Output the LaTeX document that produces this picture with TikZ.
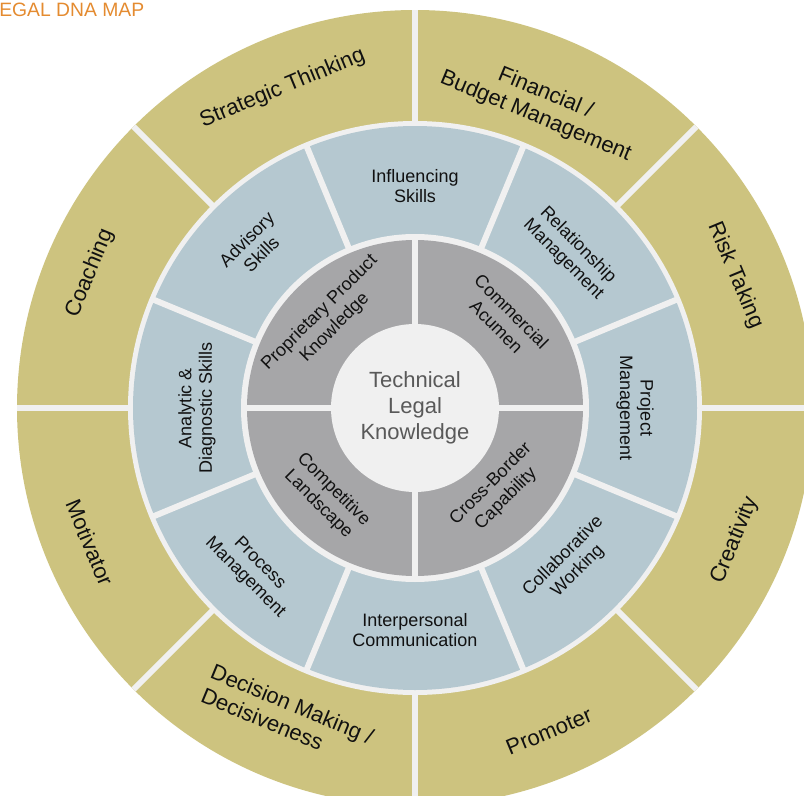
\documentclass[tikz,border=0pt]{standalone}
\usepackage{fontspec}
\setmainfont{Liberation Sans}
\usetikzlibrary{calc}

\begin{document}
\begin{tikzpicture}[x=0.75pt,y=0.75pt,yscale=-1,xscale=1,
  gap/.style={fill={rgb, 255:red, 240; green, 240; blue, 240}},
  sep/.style={draw={rgb, 255:red, 240; green, 240; blue, 240}, line width=4.5pt},
  outerlbl/.style={inner sep=0.75pt, align=center, font=\fontsize{16.5}{19}\selectfont, text={rgb, 255:red, 17; green, 17; blue, 17}},
  midlbl/.style={inner sep=0.75pt, align=center, font=\fontsize{13.5}{15.5}\selectfont, text={rgb, 255:red, 17; green, 17; blue, 17}},
  innerlbl/.style={inner sep=0.75pt, align=center, font=\fontsize{13.5}{16}\selectfont, text={rgb, 255:red, 17; green, 17; blue, 17}}
]
\useasboundingbox (0,0) rectangle (804,796);
\clip (0,0) rectangle (804,796);

\coordinate (c) at (415,408);

%Shape: Circle (outer ring)
\fill [fill={rgb, 255:red, 205; green, 195; blue, 127 }] (c) circle (398);
\fill [gap] (c) circle (287);
%Shape: Circle (middle ring)
\fill [fill={rgb, 255:red, 181; green, 200; blue, 208 }] (c) circle (282);
\fill [gap] (c) circle (174);
%Shape: Circle (inner ring)
\fill [fill={rgb, 255:red, 166; green, 166; blue, 168 }] (c) circle (168);
\fill [gap] (c) circle (84);

%Straight Lines (outer ring)
\draw [sep] ($(c)+(0:284)$) -- ($(c)+(0:398)$);
\draw [sep] ($(c)+(45:284)$) -- ($(c)+(45:398)$);
\draw [sep] ($(c)+(90:284)$) -- ($(c)+(90:398)$);
\draw [sep] ($(c)+(135:284)$) -- ($(c)+(135:398)$);
\draw [sep] ($(c)+(180:284)$) -- ($(c)+(180:398)$);
\draw [sep] ($(c)+(225:284)$) -- ($(c)+(225:398)$);
\draw [sep] ($(c)+(270:284)$) -- ($(c)+(270:398)$);
\draw [sep] ($(c)+(315:284)$) -- ($(c)+(315:398)$);
%Straight Lines (middle ring)
\draw [sep] ($(c)+(22.5:171)$) -- ($(c)+(22.5:285)$);
\draw [sep] ($(c)+(67.5:171)$) -- ($(c)+(67.5:285)$);
\draw [sep] ($(c)+(112.5:171)$) -- ($(c)+(112.5:285)$);
\draw [sep] ($(c)+(157.5:171)$) -- ($(c)+(157.5:285)$);
\draw [sep] ($(c)+(202.5:171)$) -- ($(c)+(202.5:285)$);
\draw [sep] ($(c)+(247.5:171)$) -- ($(c)+(247.5:285)$);
\draw [sep] ($(c)+(292.5:171)$) -- ($(c)+(292.5:285)$);
\draw [sep] ($(c)+(337.5:171)$) -- ($(c)+(337.5:285)$);
%Straight Lines (inner ring)
\draw [sep] ($(c)+(0:80)$) -- ($(c)+(0:171)$);
\draw [sep] ($(c)+(90:80)$) -- ($(c)+(90:171)$);
\draw [sep] ($(c)+(180:80)$) -- ($(c)+(180:171)$);
\draw [sep] ($(c)+(270:80)$) -- ($(c)+(270:171)$);

% Text Node
\node (title) [anchor=base west, inner sep=0pt, font=\fontsize{14.5}{17}\selectfont, text={rgb, 255:red, 228; green, 139; blue, 48}] at (-1,16.5) {EGAL DNA MAP};

% Text Node (outer ring)
\node (finance) [outerlbl, rotate=-22.5] at ($(c)+(-67.5:328)$) {Financial /\\Budget Management};
\node (strategy) [outerlbl, rotate=22.5] at ($(c)+(-112.5:346)$) {Strategic Thinking};
\node (coaching) [outerlbl, rotate=67.5] at ($(c)+(-157.5:352)$) {Coaching};
\node (motivator) [outerlbl, rotate=-67.5] at ($(c)+(-202.5:352)$) {Motivator};
\node (decision) [outerlbl, align=left, rotate=-22.5] at ($(c)+(-247.5:333)$) {Decision Making /\\Decisiveness};
\node (promoter) [outerlbl, rotate=22.5] at ($(c)+(-292.5:350)$) {Promoter};
\node (creativity) [outerlbl, rotate=67.5] at ($(c)+(-337.5:346)$) {Creativity};
\node (risk) [outerlbl, rotate=-67.5] at ($(c)+(-22.5:347)$) {Risk Taking};

% Text Node (middle ring)
\node (influence) [midlbl] at ($(c)+(-90:222)$) {Influencing\\Skills};
\node (advisory) [midlbl, rotate=45] at ($(c)+(-135:228)$) {Advisory\\Skills};
\node (analytic) [midlbl, rotate=90] at ($(c)+(-180:218)$) {Analytic \&\\Diagnostic Skills};
\node (process) [midlbl, rotate=-45] at ($(c)+(-225:230)$) {Process\\Management};
\node (interpersonal) [midlbl] at ($(c)+(-270:222)$) {Interpersonal\\Communication};
\node (collab) [midlbl, rotate=45] at ($(c)+(-315:220)$) {Collaborative\\Working};
\node (project) [midlbl, rotate=-90] at ($(c)+(0:220)$) {Project\\Management};
\node (relation) [midlbl, rotate=-45] at ($(c)+(-45:220)$) {Relationship\\Management};

% Text Node (inner ring)
\node (commercial) [innerlbl, rotate=-45] at ($(c)+(-45:126)$) {Commercial\\Acumen};
\node (proprietary) [innerlbl, rotate=45] at ($(c)+(-135:124)$) {Proprietary Product\\Knowledge};
\node (competitive) [innerlbl, rotate=-45] at ($(c)+(-225:126)$) {Competitive\\Landscape};
\node (crossborder) [innerlbl, rotate=45] at ($(c)+(-315:118)$) {Cross-Border\\Capability};

% Text Node (centre)
\node (core) [align=center, inner sep=0.75pt, font=\fontsize{16.5}{19.5}\selectfont, text={rgb, 255:red, 89; green, 89; blue, 89}] at (c) {Technical\\Legal\\Knowledge};
\end{tikzpicture}
\end{document}
